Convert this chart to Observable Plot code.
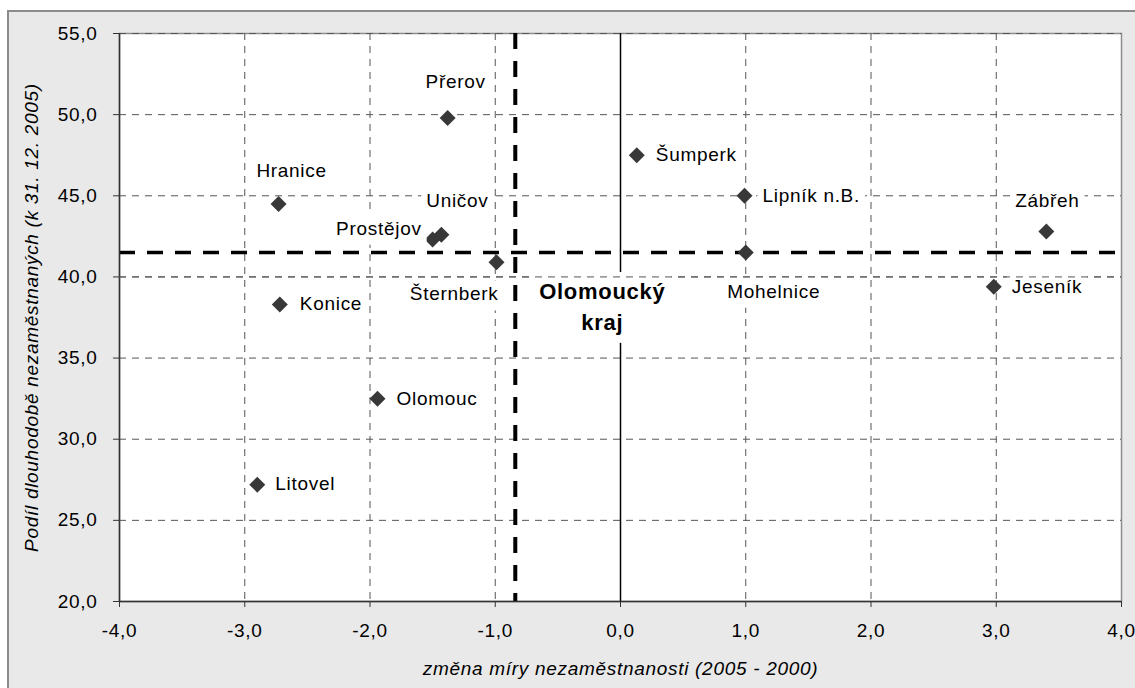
<!DOCTYPE html>
<html><head><meta charset="utf-8">
<script src="https://cdn.jsdelivr.net/npm/d3@7"></script>
<script src="https://cdn.jsdelivr.net/npm/@observablehq/plot@0.6"></script>
<style>
html,body{margin:0;padding:0;background:#fff;}
#wrap{position:relative;width:1135px;height:688px;overflow:hidden;}
#bg{position:absolute;left:7px;top:10px;width:1200px;height:800px;background:#e9e9e9;border-left:2px solid #8c8c8c;border-top:2px solid #8c8c8c;}
#chart{position:absolute;left:0;top:0;}
</style></head><body>
<div id="wrap"><div id="bg"></div><div id="chart"></div></div>
<script>
// ---- data ----
const districts = ["Přerov","Šumperk","Hranice","Lipník n.B.","Zábřeh","Uničov","Prostějov","Mohelnice","Šternberk","Jeseník","Konice","Olomouc","Litovel"];
const changeRate = [-1.38, 0.13, -2.73, 0.99, 3.40, -1.43, -1.50, 1.00, -0.99, 2.98, -2.72, -1.94, -2.90];
const longTermShare = [49.8, 47.5, 44.5, 45.0, 42.8, 42.6, 42.3, 41.5, 40.9, 39.4, 38.3, 32.5, 27.2];
const regionName = "Olomoucký\nkraj";
const regionChange = -0.84;
const regionShare = 41.5;
const xTicks = [-4, -3, -2, -1, 0, 1, 2, 3, 4];
const yTicks = [20, 25, 30, 35, 40, 45, 50, 55];
const xTitle = "změna míry nezaměstnanosti (2005 - 2000)";
const yTitle = "Podíl dlouhodobě nezaměstnaných (k 31. 12. 2005)";

// ---- label placement (style only) ----
const placement = {
  "Přerov": {a: "middle", dx: 8, dy: -36},
  "Šumperk": {a: "start", dx: 19, dy: 0},
  "Hranice": {a: "middle", dx: 13, dy: -33},
  "Lipník n.B.": {a: "start", dx: 18, dy: 0},
  "Zábřeh": {a: "middle", dx: 1, dy: -31},
  "Uničov": {a: "middle", dx: 16, dy: -34},
  "Prostějov": {a: "end", dx: -11, dy: -11},
  "Mohelnice": {a: "middle", dx: 28, dy: 39},
  "Šternberk": {a: "end", dx: 2, dy: 32},
  "Jeseník": {a: "start", dx: 18, dy: 0},
  "Konice": {a: "start", dx: 20, dy: -1},
  "Olomouc": {a: "start", dx: 19, dy: 0},
  "Litovel": {a: "start", dx: 18, dy: -1}
};

const points = districts.map((name, i) => ({name, x: changeRate[i], y: longTermShare[i]}));
const region = [{name: regionName, x: regionChange, y: regionShare}];
const fmt = d => d.toFixed(1).replace(".", ",");
const gridStyle = {stroke: "#555", strokeOpacity: 1, strokeDasharray: "7,6"};

const labelMarks = points.map(p => {
  const o = placement[p.name];
  return Plot.text([p], {x: "x", y: "y", text: "name", textAnchor: o.a, dx: o.dx, dy: o.dy, lineAnchor: "middle", fill: "#000"});
});

const chart = Plot.plot({
  width: 1135,
  height: 688,
  marginLeft: 119,
  marginRight: 14,
  marginTop: 33,
  marginBottom: 87,
  style: {background: "transparent", fontFamily: "'Liberation Sans', Arial, sans-serif", fontSize: "19px", letterSpacing: "0.7px", color: "#000"},
  x: {domain: [-4, 4], nice: false},
  y: {domain: [20, 55], nice: false},
  marks: [
    Plot.frame({fill: "white", stroke: "#8c8c8c", strokeWidth: 1.5}),
    Plot.gridX({ticks: xTicks.filter(t => t !== 0 && Math.abs(t) !== 4), ...gridStyle}),
    Plot.gridY({ticks: yTicks.filter(t => t !== 20), ...gridStyle}),
    Plot.ruleX([0], {stroke: "#000", strokeWidth: 1.5}),
    Plot.ruleY(region, {y: "y", stroke: "#000", strokeWidth: 3.5, strokeDasharray: "16,12"}),
    Plot.ruleX(region, {x: "x", stroke: "#000", strokeWidth: 4, strokeDasharray: "16,12"}),
    Plot.axisX({ticks: xTicks, tickFormat: fmt, tickSize: 6, tickPadding: 16, label: null, stroke: "#333", fill: "#000"}),
    Plot.axisY({ticks: yTicks, tickFormat: fmt, tickSize: 6, tickPadding: 16, label: null, stroke: "#333", fill: "#000"}),
    Plot.ruleX([-4], {stroke: "#333", strokeWidth: 1.5}),
    Plot.ruleY([20], {stroke: "#333", strokeWidth: 1.5}),
    Plot.dot(points, {x: "x", y: "y", symbol: "diamond2", r: 7.2, fill: "#383838", stroke: "none"}),
    ...labelMarks,
    Plot.text(region, {x: "x", y: "y", text: "name", textAnchor: "middle", lineAnchor: "middle", lineHeight: 1.4, dx: 87, dy: 52, fontWeight: "bold", fontSize: 22, letterSpacing: "0.5px", fill: "#000"}),
    Plot.gridY({ticks: [40], ...gridStyle}),
    Plot.text([xTitle], {frameAnchor: "bottom", text: d => d, textAnchor: "middle", dy: 67, fontStyle: "italic", fill: "#000", lineAnchor: "middle"}),
    Plot.text([yTitle], {frameAnchor: "left", text: d => d, textAnchor: "middle", dx: -88, rotate: -90, fontStyle: "italic", fill: "#000", lineAnchor: "middle"})
  ]
});

document.getElementById("chart").append(chart);

// white label boxes (like spreadsheet data labels)
const boxed = new Set([...districts, regionName.replace("\n", "")]);
chart.querySelectorAll('g[aria-label="text"] text').forEach(t => {
  if (!boxed.has(t.textContent)) return;
  const b = t.getBBox();
  const isRegion = t.textContent === regionName.replace("\n", "");
  const px = isRegion ? 6 : 5, pt = isRegion ? 7 : 3, pb = isRegion ? 8 : 6;
  const r = document.createElementNS("http://www.w3.org/2000/svg", "rect");
  r.setAttribute("x", b.x - px);
  r.setAttribute("y", b.y - pt);
  r.setAttribute("width", b.width + 2 * px);
  r.setAttribute("height", b.height + pt + pb);
  r.setAttribute("fill", "white");
  const tr = t.getAttribute("transform");
  if (tr) r.setAttribute("transform", tr);
  t.parentNode.insertBefore(r, t);
});
</script>
</body></html>
